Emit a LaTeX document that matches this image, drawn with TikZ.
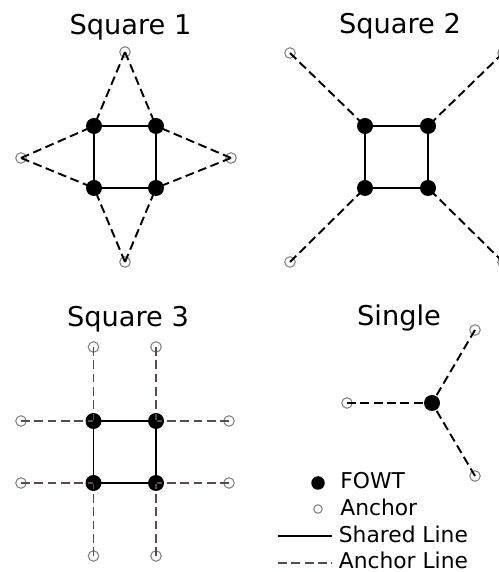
\documentclass[tikz,border=0pt]{standalone}
\usepackage{fontspec}
\setmainfont{DejaVu Sans}
\usetikzlibrary{positioning}
\definecolor{ancgray}{RGB}{128,128,128}
\definecolor{moorbrown}{RGB}{92,74,74}

\begin{document}
\begin{tikzpicture}[x=1cm,y=1cm,
  fowt/.style={circle,fill=black,inner sep=0pt,minimum size=0.32cm},
  anc/.style={circle,draw=ancgray,line width=0.6pt,inner sep=0pt,minimum size=0.21cm},
  shared/.style={line width=1pt},
  moor/.style={line width=1.1pt,dash pattern=on 5pt off 2.6pt},
  ttl/.style={font=\fontsize{15.5}{18}\selectfont,anchor=base,inner sep=0pt},
  lgd/.style={font=\fontsize{12.4}{14}\selectfont,anchor=base west,inner sep=0pt}]
  \useasboundingbox (0,0) rectangle (9.96,11.44);

  % Square 1
  \node[ttl] (t1) at (2.61,10.74) {Square 1};
  \node[anc] (a1t) at (2.5,10.4) {};
  \node[anc] (a1l) at (0.42,8.28) {};
  \node[anc] (a1r) at (4.62,8.28) {};
  \node[anc] (a1b) at (2.5,6.2) {};
  \node[fowt] (f1a) at (1.88,8.92) {};
  \node[fowt] (f1b) at (3.12,8.92) {};
  \node[fowt] (f1c) at (1.88,7.68) {};
  \node[fowt] (f1d) at (3.12,7.68) {};
  \draw[shared] (f1a.center) -- (f1b.center) -- (f1d.center) -- (f1c.center) -- cycle;
  \draw[moor] (a1t.center) -- (f1a.center) (a1t.center) -- (f1b.center);
  \draw[moor] (a1l.center) -- (f1a.center) (a1l.center) -- (f1c.center);
  \draw[moor] (a1r.center) -- (f1b.center) (a1r.center) -- (f1d.center);
  \draw[moor] (a1b.center) -- (f1c.center) (a1b.center) -- (f1d.center);

  % Square 2
  \node[ttl] (t2) at (8.0,10.76) {Square 2};
  \node[anc] (a2a) at (5.8,10.38) {};
  \node[anc] (a2b) at (10.06,10.38) {};
  \node[anc] (a2c) at (5.8,6.2) {};
  \node[anc] (a2d) at (10.06,6.2) {};
  \node[fowt] (f2a) at (7.3,8.92) {};
  \node[fowt] (f2b) at (8.56,8.92) {};
  \node[fowt] (f2c) at (7.3,7.68) {};
  \node[fowt] (f2d) at (8.56,7.68) {};
  \draw[shared] (f2a.center) -- (f2b.center) -- (f2d.center) -- (f2c.center) -- cycle;
  \draw[moor] (a2a.center) -- (f2a.center);
  \draw[moor] (a2b.center) -- (f2b.center);
  \draw[moor] (a2c.center) -- (f2c.center);
  \draw[moor] (a2d.center) -- (f2d.center);

  % Square 3
  \node[ttl] (t3) at (2.56,4.9) {Square 3};
  \node[anc] (a3a) at (1.87,4.5) {};
  \node[anc] (a3b) at (3.12,4.5) {};
  \node[anc] (a3c) at (0.42,3.02) {};
  \node[anc] (a3d) at (4.58,3.02) {};
  \node[anc] (a3e) at (0.42,1.78) {};
  \node[anc] (a3f) at (4.58,1.78) {};
  \node[anc] (a3g) at (1.87,0.32) {};
  \node[anc] (a3h) at (3.12,0.32) {};
  \node[fowt] (f3a) at (1.87,3.02) {};
  \node[fowt] (f3b) at (3.12,3.02) {};
  \node[fowt] (f3c) at (1.87,1.78) {};
  \node[fowt] (f3d) at (3.12,1.78) {};
  \draw[moor,moorbrown] (a3a.center) -- (f3a.center) (a3c.center) -- (f3a.center);
  \draw[moor,moorbrown] (a3b.center) -- (f3b.center) (a3d.center) -- (f3b.center);
  \draw[moor,moorbrown] (a3e.center) -- (f3c.center) (a3g.center) -- (f3c.center);
  \draw[moor,moorbrown] (a3f.center) -- (f3d.center) (a3h.center) -- (f3d.center);
  \draw[shared] (f3a.center) -- (f3b.center) -- (f3d.center) -- (f3c.center) -- cycle;

  % Single
  \node[ttl] (t4) at (7.98,4.92) {Single};
  \node[anc] (a4a) at (6.94,3.38) {};
  \node[anc] (a4b) at (9.5,4.84) {};
  \node[anc] (a4c) at (9.5,1.92) {};
  \node[fowt] (f4) at (8.64,3.38) {};
  \draw[moor] (a4a.center) -- (f4.center);
  \draw[moor] (a4b.center) -- (f4.center);
  \draw[moor] (a4c.center) -- (f4.center);

  % legend
  \node[fowt,minimum size=0.27cm] (kf) at (6.36,1.78) {};
  \node[anc,minimum size=0.17cm] (ka) at (6.36,1.26) {};
  \coordinate (ks1) at (5.56,0.72);
  \coordinate (ks2) at (6.64,0.72);
  \coordinate (km1) at (5.56,0.18);
  \coordinate (km2) at (6.64,0.18);
  \draw[shared] (ks1) -- (ks2);
  \draw[moor,moorbrown] (km1) -- (km2);
  \node[lgd] (lf) at (6.8,1.66) {FOWT};
  \node[lgd] (la) at (6.8,1.12) {Anchor};
  \node[lgd] (ls) at (6.77,0.58) {Shared Line};
  \node[lgd] (lm) at (6.77,0.06) {Anchor Line};
\end{tikzpicture}
\end{document}
